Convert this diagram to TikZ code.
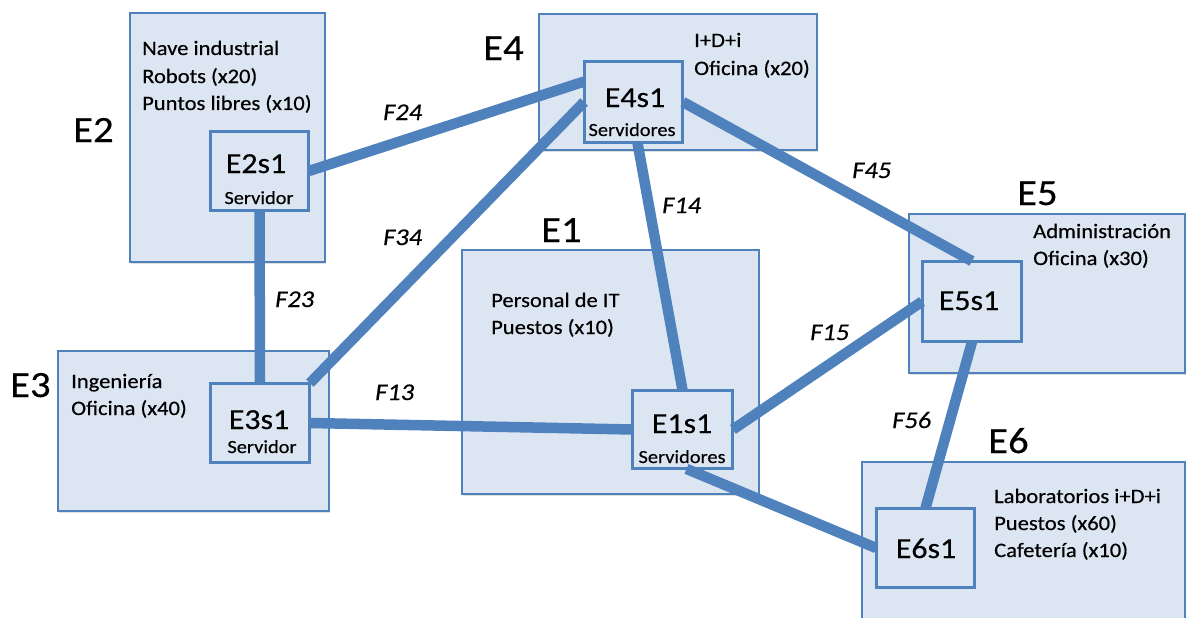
\documentclass[tikz,border=0pt]{standalone}
\usepackage{fontspec}
\setmainfont{Carlito}[FakeStretch=1.1,FakeBold=0.4]
\usetikzlibrary{shadows,calc}
\definecolor{boxfill}{RGB}{220,230,242}
\definecolor{boxline}{RGB}{79,129,189}
\definecolor{linkcol}{RGB}{79,129,189}
\tikzset{
  sitebox/.style={draw=boxline, line width=1.8pt, fill=boxfill, rectangle, inner sep=0pt,
    drop shadow={opacity=0.25, shadow xshift=1.2pt, shadow yshift=-1.5pt}},
  srvbox/.style={draw=boxline, line width=1.8pt, fill=boxfill, rectangle, inner sep=0pt,
    drop shadow={opacity=0.3, shadow xshift=1.2pt, shadow yshift=-1.5pt}},
  link/.style={draw=linkcol, line width=10.5pt},
  bodytxt/.style={anchor=base west, inner sep=0pt, font=\fontsize{20.5}{24}\selectfont},
  sitelbl/.style={anchor=base west, inner sep=0pt, font=\fontsize{37}{40}\selectfont},
  srvname/.style={anchor=base, inner sep=0pt, font=\fontsize{29}{32}\selectfont},
  srvsub/.style={anchor=base, inner sep=0pt, font=\fontsize{18.5}{21}\selectfont},
  flbl/.style={anchor=base west, inner sep=0pt, font=\fontsize{24}{27}\selectfont\itshape},
}
\begin{document}
\begin{tikzpicture}[x=1pt,y=-1pt]
\useasboundingbox (0,0) rectangle (1186,618);
% site boxes
\draw[sitebox] (130,13) rectangle (325,262) coordinate (e2box);
\draw[sitebox] (539,14) rectangle (817,150) coordinate (e4box);
\draw[sitebox] (58,351) rectangle (329,511) coordinate (e3box);
\draw[sitebox] (462,250) rectangle (759,494) coordinate (e1box);
\draw[sitebox] (909,214) rectangle (1185,373) coordinate (e5box);
\draw[sitebox] (862,462) rectangle (1185,630) coordinate (e6box);
% site labels
\node[sitelbl] (le2) at (73,142) {E2};
\node[sitelbl] (le4) at (483,60) {E4};
\node[sitelbl] (le3) at (10,397) {E3};
\node[sitelbl] (le1) at (541,242) {E1};
\node[sitelbl] (le5) at (1017,205) {E5};
\node[sitelbl] (le6) at (988,453) {E6};
% descriptions
\node[bodytxt] (t2a) at (142,55) {Nave industrial};
\node[bodytxt] (t2b) at (142,83) {Robots (x20)};
\node[bodytxt] (t2c) at (142,110) {Puntos libres (x10)};
\node[bodytxt] (t4a) at (694,47) {I+D+i};
\node[bodytxt] (t4b) at (694,75) {Oficina (x20)};
\node[bodytxt] (t3a) at (71,388) {Ingeniería};
\node[bodytxt] (t3b) at (71,415) {Oficina (x40)};
\node[bodytxt] (t1a) at (491,307) {Personal de IT};
\node[bodytxt] (t1b) at (491,334) {Puestos (x10)};
\node[bodytxt] (t5a) at (1033,238) {Administración};
\node[bodytxt] (t5b) at (1033,265) {Oficina (x30)};
\node[bodytxt] (t6a) at (994,503) {Laboratorios i+D+i};
\node[bodytxt] (t6b) at (994,530) {Puestos (x60)};
\node[bodytxt] (t6c) at (994,557) {Cafetería (x10)};
% server boxes
\node[srvbox, minimum width=97pt, minimum height=78pt] (e2s1) at (259.5,171) {};
\node[srvbox, minimum width=97pt, minimum height=80pt] (e4s1) at (633.5,102) {};
\node[srvbox, minimum width=98pt, minimum height=78pt] (e3s1) at (260,423) {};
\node[srvbox, minimum width=99pt, minimum height=77pt] (e1s1) at (682.5,429.5) {};
\node[srvbox, minimum width=98pt, minimum height=79pt] (e5s1) at (972,301.5) {};
\node[srvbox, minimum width=97pt, minimum height=78pt] (e6s1) at (925.5,548) {};
% connectors
\draw[link] (e2s1.east) -- ($(e4s1.north west)!0.25!(e4s1.south west)$);
\draw[link] (e3s1.north east) -- (e4s1.west);
\draw[link] (e2s1.south) -- (e3s1.north);
\draw[link] ($(e4s1.south)+(4,0)$) -- (e1s1.north);
\draw[link] (e4s1.east) -- (e5s1.north);
\draw[link] (e3s1.east) -- (e1s1.west);
\draw[link] (e1s1.east) -- (e5s1.west);
\draw[link] (e5s1.south) -- (e6s1.north);
\draw[link] ($(e1s1.south)+(4,0)$) -- (e6s1.west);
% redraw server box borders over link ends
\foreach \s in {e2s1,e4s1,e3s1,e1s1,e5s1,e6s1}
  \draw[draw=boxline, line width=1.8pt] (\s.north west) rectangle (\s.south east);
% server texts
\node[srvname] (n2) at (256,173) {E2s1};
\node[srvsub] (s2) at (259,204) {Servidor};
\node[srvname] (n4) at (635,107) {E4s1};
\node[srvsub] (s4) at (632,136) {Servidores};
\node[srvname] (n3) at (259,429) {E3s1};
\node[srvsub] (s3) at (262,453) {Servidor};
\node[srvname] (n1) at (682,433) {E1s1};
\node[srvsub] (s1) at (682,463) {Servidores};
\node[srvname] (n5) at (969,310) {E5s1};
\node[srvname] (n6) at (926,558) {E6s1};
% link labels
\node[flbl] (f24) at (383,120) {F24};
\node[flbl] (f34) at (383,245) {F34};
\node[flbl] (f23) at (275,307) {F23};
\node[flbl] (f14) at (662,213) {F14};
\node[flbl] (f45) at (852,178) {F45};
\node[flbl] (f13) at (375,400) {F13};
\node[flbl] (f15) at (810,340) {F15};
\node[flbl] (f56) at (892,428) {F56};
\end{tikzpicture}
\end{document}
